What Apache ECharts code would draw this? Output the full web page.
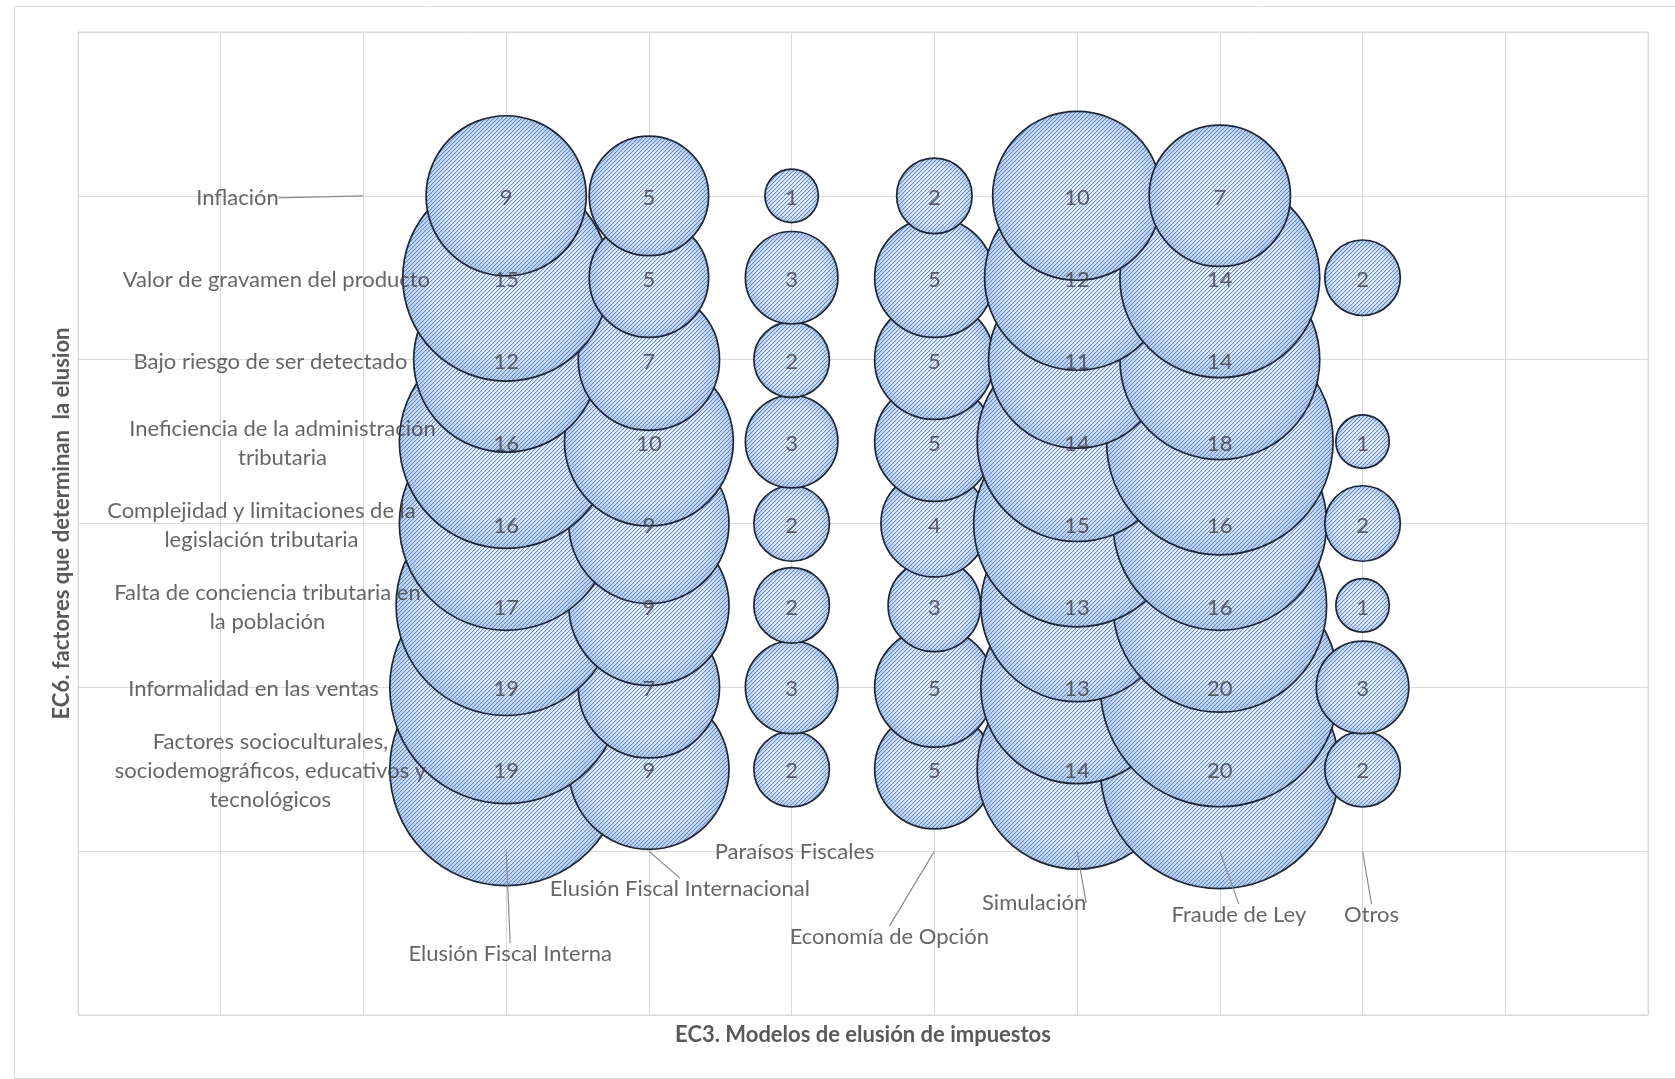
<!DOCTYPE html>
<html>
<head>
<meta charset="utf-8">
<title>EC6 vs EC3</title>
<script src="https://cdn.jsdelivr.net/npm/echarts@6/dist/echarts.min.js"></script>
<style>
html,body{margin:0;padding:0;background:#fff;}
#chart{width:1675px;height:1079px;}
</style>
</head>
<body>
<div id="chart"></div>
<script>
// eje X: modelos de elusion, eje Y: factores
var modelos = ['Elusión Fiscal Interna', 'Elusión Fiscal Internacional', 'Paraísos Fiscales', 'Economía de Opción', 'Simulación', 'Fraude de Ley', 'Otros'];
var modeloX = [3, 4, 5, 6, 7, 8, 9];
var factores = [
  'Inflación',
  'Valor de gravamen del producto',
  'Bajo riesgo de ser detectado',
  'Ineficiencia de la administración\ntributaria',
  'Complejidad y limitaciones de la\nlegislación tributaria',
  'Falta de conciencia tributaria en\nla población',
  'Informalidad en las ventas',
  'Factores socioculturales,\nsociodemográficos, educativos y\ntecnológicos'
];
var factorY = [10, 9, 8, 7, 6, 5, 4, 3];

// frecuencias por modelo, de Inflación hacia abajo (null = sin dato)
var elusionInterna = [9, 15, 12, 16, 16, 17, 19, 19];
var elusionInternacional = [5, 5, 7, 10, 9, 9, 7, 9];
var paraisosFiscales = [1, 3, 2, 3, 2, 2, 3, 2];
var economiaOpcion = [2, 5, 5, 5, 4, 3, 5, 5];
var simulacion = [10, 12, 11, 14, 15, 13, 13, 14];
var fraudeLey = [7, 14, 14, 18, 16, 16, 20, 20];
var otros = [null, 2, null, 1, 2, 1, 3, 2];

// desplazamiento de las etiquetas (px)
var factorDx = [-126, -87, -93, -81, -102, -96, -110, -93];
var modeloOffset = [[4, 103], [31, 38], [3, 1], [-45, 86], [-43, 52], [19, 64], [9, 64]];

var columnas = [elusionInterna, elusionInternacional, paraisosFiscales, economiaOpcion, simulacion, fraudeLey, otros];

// orden de dibujo: de la fila inferior a la superior, de izquierda a derecha
var burbujas = [];
for (var r = factores.length - 1; r >= 0; r--) {
  for (var c = 0; c < columnas.length; c++) {
    var v = columnas[c][r];
    if (v != null) burbujas.push([modeloX[c], factorY[r], v]);
  }
}

// trama diagonal "/" para el relleno de las burbujas
var tile = document.createElement('canvas');
tile.width = 4; tile.height = 4;
var tctx = tile.getContext('2d');
for (var y = 0; y < 4; y++) {
  var x0 = 3 - y;
  tctx.fillStyle = 'rgba(66,116,194,0.8)';
  tctx.fillRect(x0, y, 1, 1);
  tctx.fillStyle = 'rgba(66,116,194,0.12)';
  tctx.fillRect((x0 + 1) % 4, y, 1, 1);
}
var trama = {image: tile, repeat: 'repeat'};

function radio(v) { return 53.4 * Math.sqrt(v) / 2; }

var FONT = 'Lato';
var chart = echarts.init(document.getElementById('chart'));

var option = {
  backgroundColor: '#fff',
  animation: false,
  textStyle: {fontFamily: FONT},
  graphic: [{
    type: 'rect', left: 12, top: 4, silent: true,
    shape: {width: 1661, height: 1072},
    style: {fill: 'none', stroke: '#d9d9d9', lineWidth: 1}
  }],
  grid: {left: 78, right: 27, top: 32, bottom: 64, show: true, borderColor: '#d9d9d9', borderWidth: 1},
  xAxis: {
    type: 'value', min: 0, max: 11, interval: 1,
    name: 'EC3. Modelos de elusión de impuestos',
    nameLocation: 'middle', nameGap: 9,
    nameTextStyle: {fontFamily: FONT, fontSize: 22, fontWeight: 'bold', color: '#595959'},
    axisLine: {show: false}, axisTick: {show: false}, axisLabel: {show: false},
    splitLine: {lineStyle: {color: '#d9d9d9', width: 1}}
  },
  yAxis: {
    type: 'value', min: 0, max: 12, interval: 2,
    name: 'EC6. factores que determinan  la elusion',
    nameLocation: 'middle', nameGap: 5,
    nameTextStyle: {fontFamily: FONT, fontSize: 22, fontWeight: 'bold', color: '#595959'},
    axisLine: {show: false}, axisTick: {show: false}, axisLabel: {show: false},
    splitLine: {lineStyle: {color: '#d9d9d9', width: 1}}
  },
  series: [
    {
      name: 'burbujas',
      type: 'custom',
      silent: true,
      clip: false,
      data: burbujas,
      encode: {x: 0, y: 1},
      renderItem: function (params, api) {
        var p = api.coord([api.value(0), api.value(1)]);
        var rr = radio(api.value(2));
        return {
          type: 'group',
          children: [
            {
              type: 'circle',
              shape: {cx: p[0], cy: p[1], r: rr},
              style: {
                fill: new echarts.graphic.RadialGradient(0.5, 0.5, 0.5, [
                  {offset: 0, color: '#eaf0fa'},
                  {offset: 0.75, color: '#dde7f5'},
                  {offset: 1, color: '#bccfea'}
                ])
              }
            },
            {
              type: 'circle',
              shape: {cx: p[0], cy: p[1], r: rr},
              style: {fill: trama, stroke: '#1d2636', lineWidth: 1.7}
            }
          ]
        };
      }
    },
    {
      name: 'valores',
      type: 'scatter',
      z: 5,
      silent: true,
      data: burbujas,
      symbolSize: 1,
      itemStyle: {color: 'rgba(0,0,0,0)'},
      label: {
        show: true, position: 'inside',
        formatter: function (p) { return p.value[2]; },
        fontFamily: FONT, fontSize: 22, color: '#404040'
      },
      labelLayout: {dy: 2}
    },
    {
      name: 'factores',
      type: 'scatter',
      z: 6,
      silent: true,
      symbolSize: 1,
      itemStyle: {color: 'rgba(0,0,0,0)'},
      data: factores.map(function (f, i) {
        return {name: f, value: [2, factorY[i]], labelLine: {show: i === 0}};
      }),
      label: {
        show: true, position: 'inside', align: 'center',
        formatter: '{b}',
        fontFamily: FONT, fontSize: 22, lineHeight: 29, color: '#404040'
      },
      labelLine: {show: false, lineStyle: {color: '#8c8c8c', width: 1.2}},
      labelLayout: function (p) { return {dx: factorDx[p.dataIndex], dy: 2}; }
    },
    {
      name: 'modelos',
      type: 'scatter',
      z: 6,
      silent: true,
      symbolSize: 1,
      itemStyle: {color: 'rgba(0,0,0,0)'},
      data: modelos.map(function (m, i) {
        return {name: m, value: [modeloX[i], 2], labelLine: {show: i !== 2}};
      }),
      label: {
        show: true, position: 'inside',
        formatter: '{b}',
        fontFamily: FONT, fontSize: 22, color: '#404040'
      },
      labelLine: {show: true, lineStyle: {color: '#8c8c8c', width: 1.2}},
      labelLayout: function (p) { return {dx: modeloOffset[p.dataIndex][0], dy: modeloOffset[p.dataIndex][1]}; }
    }
  ]
};

chart.setOption(option);
</script>
</body>
</html>
